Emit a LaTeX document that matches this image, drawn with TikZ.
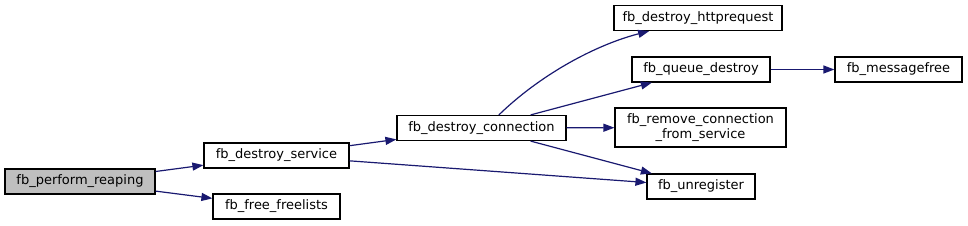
\documentclass[tikz,border=0pt]{standalone}
\usepackage{fontspec}
\setmainfont{DejaVu Sans}
\usepackage{xcolor}
\usetikzlibrary{arrows.meta}
\definecolor{edgeblue}{HTML}{191970}
\definecolor{rootgrey}{HTML}{BFBFBF}

\begin{document}
\begin{tikzpicture}[
    x=1pt,y=-1pt,
    font=\fontsize{13}{15}\selectfont,
    func/.style={draw=black,line width=1.2pt,fill=white,minimum height=25pt,
      inner xsep=0pt,inner ysep=2pt,align=center},
    root/.style={func,fill=rootgrey},
    call/.style={-{Triangle[length=11pt,width=8pt]},line width=1.2pt,edgeblue}
  ]
    \useasboundingbox (0,0) rectangle (968,225);

    \node[root,minimum width=150pt] (reap) at (80,181.5) {fb\_perform\_reaping};
    \node[func,minimum width=145pt] (dserv) at (276.5,155.5) {fb\_destroy\_service};
    \node[func,minimum width=127pt] (ffree) at (276.5,206.5) {fb\_free\_freelists};
    \node[func,minimum width=169pt] (dconn) at (481.5,128) {fb\_destroy\_connection};
    \node[func,minimum width=168pt] (dhttp) at (698,18) {fb\_destroy\_httprequest};
    \node[func,minimum width=138pt] (qdest) at (701,69.5) {fb\_queue\_destroy};
    \node[func,minimum width=171pt,minimum height=39pt] (rmconn) at (700.5,127.5)
      {fb\_remove\_connection\\\_from\_service};
    \node[func,minimum width=108pt] (unreg) at (701,186.5) {fb\_unregister};
    \node[func,minimum width=127pt] (mfree) at (898.5,69.5) {fb\_messagefree};

    \draw[call] (reap) -- (dserv);
    \draw[call] (reap) -- (ffree);
    \draw[call] (dserv) -- (dconn);
    \draw[call] (dserv) -- (unreg);
    \draw[call] (dconn.37) .. controls (540,75) and (595,45) .. (dhttp.195);
    \draw[call] (dconn) -- (qdest);
    \draw[call] (dconn) -- (rmconn);
    \draw[call] (dconn) -- (unreg);
    \draw[call] (qdest) -- (mfree);
  \end{tikzpicture}
\end{document}
